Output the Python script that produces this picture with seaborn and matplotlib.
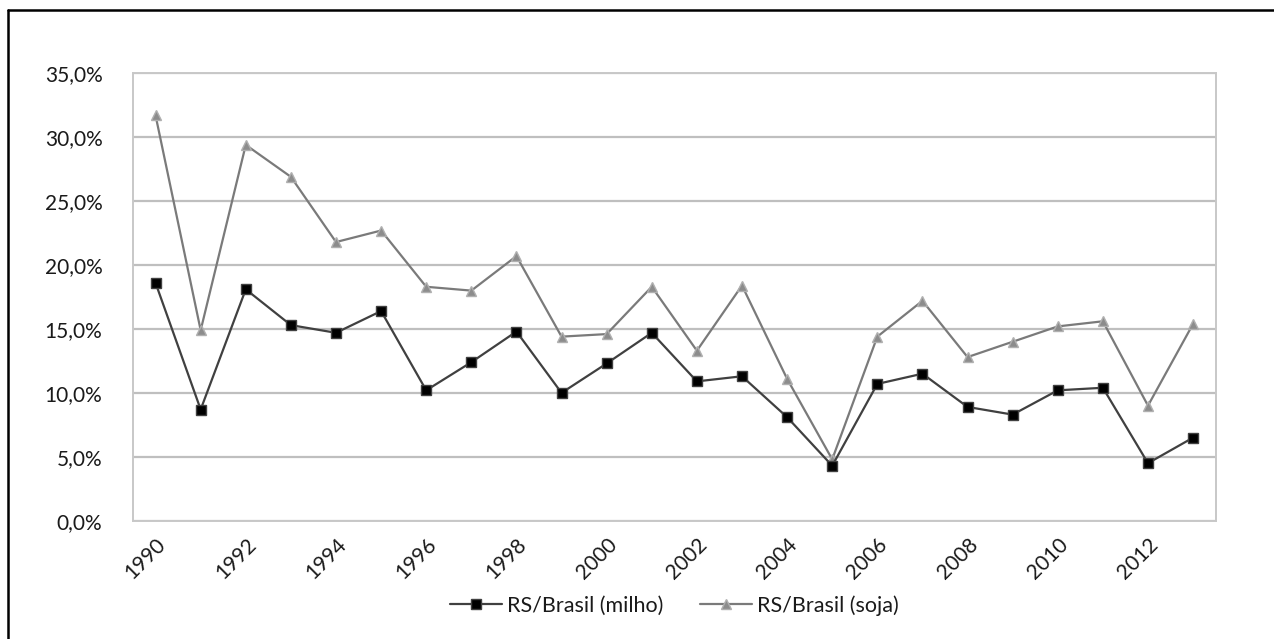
import matplotlib
matplotlib.use("Agg")
import matplotlib.pyplot as plt
import matplotlib.lines as mlines
import numpy as np
import pandas as pd
import seaborn as sns
from matplotlib.ticker import FuncFormatter, MultipleLocator

# Participação do Rio Grande do Sul na produção brasileira (%)
anos = list(range(1990, 2014))
milho = [18.6, 8.7, 18.1, 15.3, 14.7, 16.4, 10.2, 12.4, 14.8, 10.0, 12.3, 14.7,
         10.9, 11.3, 8.1, 4.3, 10.7, 11.5, 8.9, 8.3, 10.2, 10.4, 4.5, 6.5]
soja = [31.7, 14.9, 29.4, 26.9, 21.8, 22.7, 18.3, 18.0, 20.7, 14.4, 14.6, 18.3,
        13.3, 18.4, 11.1, 4.8, 14.4, 17.2, 12.8, 14.0, 15.2, 15.6, 9.0, 15.4]
serie_milho = "RS/Brasil (milho)"
serie_soja = "RS/Brasil (soja)"

df = pd.DataFrame({"pos": np.arange(len(anos)), "ano": anos,
                   "milho": milho, "soja": soja})

sns.set_theme(style="white")
plt.rcParams["font.family"] = ["Lato", "DejaVu Sans"]

fig = plt.figure(figsize=(12.74, 6.39), dpi=100)
ax = fig.add_axes([0.1044, 0.1851, 0.8498, 0.7002])

sns.lineplot(data=df, x="pos", y="milho", ax=ax, color="#404040", linewidth=1.6,
             marker="s", markersize=7.5, markerfacecolor="black",
             markeredgecolor="#404040", markeredgewidth=1.0,
             label=serie_milho, zorder=4)
sns.lineplot(data=df, x="pos", y="soja", ax=ax, color="#7a7a7a", linewidth=1.6,
             marker="^", markersize=7.5, markerfacecolor="#8c8c8c",
             markeredgecolor="#b0b0b0", markeredgewidth=1.0,
             label=serie_soja, zorder=3)

ax.set_xlim(-0.5, len(anos) - 0.5)
ax.set_ylim(0, 35)
ax.yaxis.set_major_locator(MultipleLocator(5))
ax.yaxis.set_major_formatter(FuncFormatter(lambda v, _: f"{v:.1f}%".replace(".", ",")))
ax.set_xticks(df["pos"][::2])
ax.set_xticklabels([str(a) for a in anos[::2]], rotation=45, ha="right",
                   rotation_mode="anchor")
ax.tick_params(axis="x", labelsize=15, pad=10, length=0)
ax.tick_params(axis="y", labelsize=15, pad=22, length=0)
for lbl in ax.get_xticklabels() + ax.get_yticklabels():
    lbl.set_color("#1a1a1a")
ax.set_xlabel("")
ax.set_ylabel("")

ax.grid(axis="y", color="#bfbfbf", linewidth=1.6)
ax.set_axisbelow(True)
for side in ["left", "right", "bottom", "top"]:
    ax.spines[side].set_visible(True)
    ax.spines[side].set_color("#c8c8c8")
    ax.spines[side].set_linewidth(1.4)

leg = ax.legend(loc="center", bbox_to_anchor=(0.5, -0.19), ncol=2, frameon=False,
                fontsize=15.5, handlelength=2.4, handletextpad=0.25, columnspacing=1.7)
for t in leg.get_texts():
    t.set_color("#1a1a1a")

# moldura externa do gráfico
fig.add_artist(mlines.Line2D([8 / 1274, 8 / 1274], [0, 1 - 10 / 639],
                             transform=fig.transFigure, color="black", linewidth=1.8))
fig.add_artist(mlines.Line2D([8 / 1274, 1], [1 - 10 / 639, 1 - 10 / 639],
                             transform=fig.transFigure, color="black", linewidth=1.8))

fig.savefig("out.png", dpi=100)
